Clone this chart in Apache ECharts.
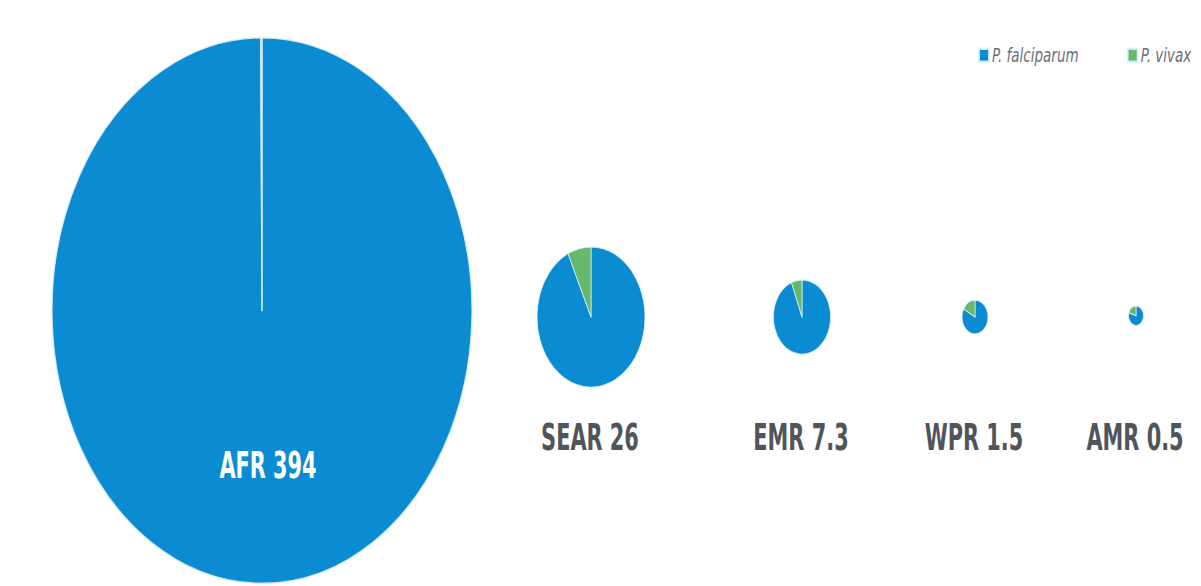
<!DOCTYPE html>
<html>
<head>
<meta charset="utf-8">
<title>Malaria cases by WHO region</title>
<script src="https://cdn.jsdelivr.net/npm/echarts@6/dist/echarts.min.js"></script>
<style>
  html, body { margin: 0; padding: 0; background: #fff; overflow: hidden; }
  #wrap { width: 1201px; height: 586px; overflow: hidden; }
  /* the artwork is drawn at 451px tall and stretched to the full height */
  #chart { width: 1201px; height: 451px; transform-origin: 0 0; transform: scaleY(1.2993); }
</style>
</head>
<body>
<div id="wrap"><div id="chart"></div></div>
<script>
// Estimated cases (millions) per WHO region and share of P. vivax (%)
const regions = ['AFR', 'SEAR', 'EMR', 'WPR', 'AMR'];
const totalCases = [394, 26, 7.3, 1.5, 0.5];
const vivaxShare = [0.1, 7, 6, 17, 20];
const speciesNames = ['P. falciparum', 'P. vivax'];

// layout: pie centres (unstretched pixels) and radius of the largest pie
const centreX = [262, 591, 802, 975, 1136];
const centreY = [239, 244, 244, 244, 243];
const labelY = [358, 336, 336, 336, 336];
const maxRadius = 210;

const colors = ['#0b8bd2', '#66b86c'];
const maxTotal = Math.max(...totalCases);

const series = regions.map((r, i) => {
  // circle area proportional to the number of cases
  const radius = maxRadius * Math.sqrt(totalCases[i] / maxTotal);
  const vivax = vivaxShare[i];
  return {
    type: 'pie',
    name: r,
    center: [centreX[i], centreY[i]],
    radius: [0, radius],
    startAngle: 90,
    clockwise: true,
    silent: true,
    animation: false,
    z: 2,
    label: { show: false },
    labelLine: { show: false },
    itemStyle: { borderColor: 'rgba(220,240,250,0.9)', borderWidth: i === 0 ? 1.2 : 0.8 },
    data: [
      { name: speciesNames[0], value: 100 - vivax },
      { name: speciesNames[1], value: vivax }
    ]
  };
});

// region captions in a tall condensed bold face
const labelFont = '"DejaVu Sans Condensed", sans-serif';
const graphics = regions.map((r, i) => ({
  type: 'text',
  x: centreX[i] + (i === 0 ? 6 : -1),
  y: labelY[i],
  scaleX: 0.8,
  z: 100,
  silent: true,
  style: {
    text: r + ' ' + totalCases[i],
    fill: i === 0 ? '#ffffff' : '#50555b',
    font: 'bold 29px ' + labelFont,
    align: 'center',
    verticalAlign: 'middle'
  }
}));

const chart = echarts.init(document.getElementById('chart'), null, { renderer: 'svg' });
chart.setOption({
  backgroundColor: '#ffffff',
  color: colors,
  animation: false,
  legend: {
    data: speciesNames,
    left: 973,
    top: 30,
    icon: 'rect',
    itemWidth: 10,
    itemHeight: 10,
    itemGap: 48,
    selectedMode: false,
    textStyle: {
      color: '#6a6f75',
      fontSize: 15,
      fontStyle: 'italic',
      fontWeight: 'normal',
      fontFamily: '"DejaVu Sans Condensed", sans-serif',
      padding: [0, 0, 0, -2]
    }
  },
  series: series,
  graphic: { elements: graphics }
});
</script>
</body>
</html>
